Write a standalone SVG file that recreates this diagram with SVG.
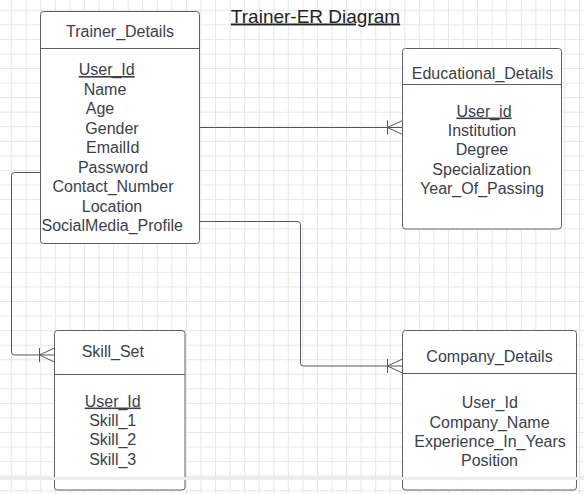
<svg xmlns="http://www.w3.org/2000/svg" width="584" height="494" viewBox="0 0 584 494">
<style>
.box{fill:#ffffff;stroke:#5a616b;stroke-width:1}
.div{stroke:#5a616b;stroke-width:1}
.t{font-family:"Liberation Sans",Arial,sans-serif;font-size:16px;fill:#3a414a;text-anchor:middle}
.u{text-decoration:underline}
.conn{fill:none;stroke:#505863;stroke-width:1}
.title{font-family:"Liberation Sans",Arial,sans-serif;font-size:19px;fill:#222222;text-anchor:middle;text-decoration:underline}
</style>
<defs>
<pattern id="grid" x="11.2" y="9.8" width="14.56" height="14.56" patternUnits="userSpaceOnUse">
<rect x="0" y="0" width="1" height="14.56" fill="#e6e6e6"/>
<rect x="0" y="0" width="14.56" height="1" fill="#e6e6e6"/>
</pattern>
<marker id="crow" viewBox="-16 -8 17 16" refX="0" refY="0" markerWidth="17" markerHeight="16" markerUnits="userSpaceOnUse" orient="auto">
<path d="M-15,-7 V7 M0,-7 L-15,0 L0,7" fill="none" stroke="#505863" stroke-width="1"/>
</marker>
</defs>
<rect x="0" y="0" width="584" height="494" fill="#ffffff"/>
<rect x="0" y="0" width="584" height="494" fill="url(#grid)"/>

<text id="diagram-title" class="title" x="315.5" y="22.5">Trainer-ER Diagram</text>

<g id="connectors">
<path class="conn" d="M199.5,127.5 H402.5" marker-end="url(#crow)"/>
<path class="conn" d="M40.5,172.5 H14.5 Q11.5,172.5 11.5,175.5 V352 Q11.5,355 14.5,355 H54.5" marker-end="url(#crow)"/>
<path class="conn" d="M199.5,221.5 H297.5 Q300.5,221.5 300.5,224.5 V363 Q300.5,366 303.5,366 H402.5" marker-end="url(#crow)"/>
</g>

<g id="trainer_details">
<rect class="box" x="40.5" y="11.5" width="159" height="232" rx="3"/>
<line class="div" x1="40.5" y1="48.5" x2="199.5" y2="48.5"/>
<text class="t" x="120" y="37">Trainer_Details</text>
<text class="t u" x="106.7" y="75">User_Id</text>
<text class="t" x="105" y="94.5">Name</text>
<text class="t" x="100" y="114">Age</text>
<text class="t" x="112" y="133.5">Gender</text>
<text class="t" x="112.8" y="153">EmailId</text>
<text class="t" x="113" y="172.5">Password</text>
<text class="t" x="113" y="192">Contact_Number</text>
<text class="t" x="112" y="211.5">Location</text>
<text class="t" x="112.2" y="231">SocialMedia_Profile</text>
</g>

<g id="educational_details">
<rect class="box" x="402.5" y="48.5" width="159" height="180.5" rx="3"/>
<line class="div" x1="402.5" y1="84.5" x2="561.5" y2="84.5"/>
<text class="t" x="482.5" y="78.5">Educational_Details</text>
<text class="t u" x="484" y="116.5">User_id</text>
<text class="t" x="482" y="135.9">Institution</text>
<text class="t" x="482" y="155.3">Degree</text>
<text class="t" x="481.7" y="174.7">Specialization</text>
<text class="t" x="482" y="194.1">Year_Of_Passing</text>
</g>

<g id="skill_set">
<rect class="box" x="54.5" y="330.5" width="130.5" height="159.5" rx="3"/>
<line class="div" x1="54.5" y1="374.5" x2="185" y2="374.5"/>
<text class="t" x="112.8" y="357">Skill_Set</text>
<text class="t u" x="112.7" y="406.5">User_Id</text>
<text class="t" x="112.7" y="426">Skill_1</text>
<text class="t" x="112.7" y="445.3">Skill_2</text>
<text class="t" x="112.7" y="464.6">Skill_3</text>
</g>

<g id="company_details">
<rect class="box" x="402.5" y="330.5" width="174" height="159.5" rx="3"/>
<line class="div" x1="402.5" y1="373.5" x2="576.5" y2="373.5"/>
<text class="t" x="489.5" y="362">Company_Details</text>
<text class="t" x="489.8" y="408.3">User_Id</text>
<text class="t" x="489.5" y="427.5">Company_Name</text>
<text class="t" x="490" y="446.8">Experience_In_Years</text>
<text class="t" x="489.5" y="466">Position</text>
</g>

<rect x="0" y="477" width="584" height="3" fill="#ededed"/>
</svg>
